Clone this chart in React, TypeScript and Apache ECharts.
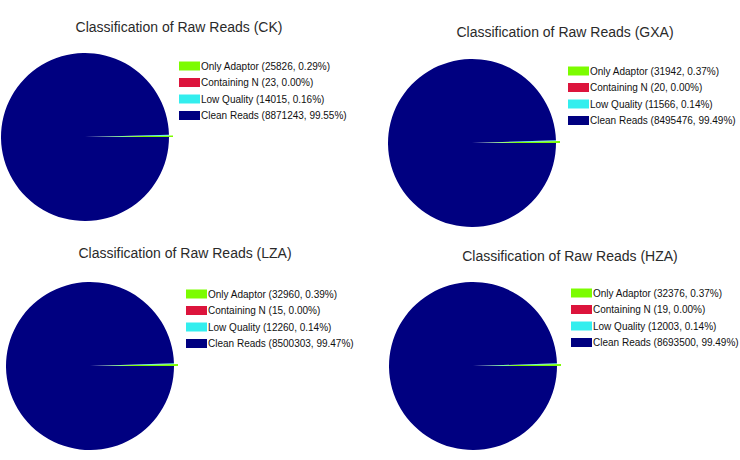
import React, { useEffect, useRef } from "react";
import * as echarts from "echarts";

const categories = ["Only Adaptor", "Containing N", "Low Quality", "Clean Reads"];
const colors = ["#7CFC00", "#DC143C", "#33EEEE", "#000080"];
const samples = ["CK", "GXA", "LZA", "HZA"];
const ckValues = [25826, 23, 14015, 8871243];
const gxaValues = [31942, 20, 11566, 8495476];
const lzaValues = [32960, 15, 12260, 8500303];
const hzaValues = [32376, 19, 12003, 8693500];
const allValues = [ckValues, gxaValues, lzaValues, hzaValues];

// layout per panel
const pieCenters = [
  [85, 137],
  [472, 143],
  [90, 366],
  [473, 366],
];
const pieRadius = 84;
const titlePos = [
  [174, 15],
  [560, 20],
  [180, 241],
  [565, 244],
];
const legendPos = [
  [179, 61],
  [568, 66],
  [186, 289],
  [571, 288],
];

export default function App() {
  const ref = useRef<HTMLDivElement>(null);
  useEffect(() => {
    if (!ref.current) return;
    const chart = echarts.init(ref.current, null, { renderer: "svg" });
    const title: any[] = [];
    const legend: any[] = [];
    const series: any[] = [];
    samples.forEach((s, i) => {
      const vals = allValues[i];
      const total = vals.reduce((a, b) => a + b, 0);
      title.push({
        text: `Classification of Raw Reads (${s})`,
        left: titlePos[i][0],
        top: titlePos[i][1],
        textAlign: "center",
        textStyle: {
          fontFamily: "Liberation Sans",
          fontSize: 14,
          fontWeight: "normal",
          color: "#2a2a2a",
        },
      });
      legend.push({
        orient: "vertical",
        left: legendPos[i][0],
        top: legendPos[i][1],
        itemWidth: 21,
        itemHeight: 9,
        itemGap: 6.5,
        padding: 0,
        selectedMode: false,
        icon: "rect",
        data: categories,
        textStyle: {
          fontFamily: "Liberation Sans",
          fontSize: 10,
          color: "#111",
          padding: [0, 0, 0, -4],
        },
        formatter: (name: string) => {
          const k = categories.indexOf(name);
          const v = vals[k];
          return `${name} (${v}, ${((v / total) * 100).toFixed(2)}%)`;
        },
      });
      series.push({
        type: "pie",
        center: pieCenters[i],
        radius: pieRadius,
        startAngle: 0,
        clockwise: false,
        minAngle: 0,
        avoidLabelOverlap: false,
        selectedMode: "multiple",
        selectedOffset: 4,
        label: { show: false },
        labelLine: { show: false },
        emphasis: { disabled: true },
        itemStyle: { borderWidth: 0 },
        data: categories.map((c, k) => ({
          name: c,
          value: vals[k],
          selected: k === 0,
          itemStyle: { color: colors[k] },
        })),
      });
    });
    chart.setOption({
      animation: false,
      backgroundColor: "#fff",
      title,
      legend,
      series,
    });
    return () => chart.dispose();
  }, []);
  return (
    <div
      ref={ref}
      style={{ position: "fixed", left: 0, top: 0, width: 740, height: 460 }}
    />
  );
}
